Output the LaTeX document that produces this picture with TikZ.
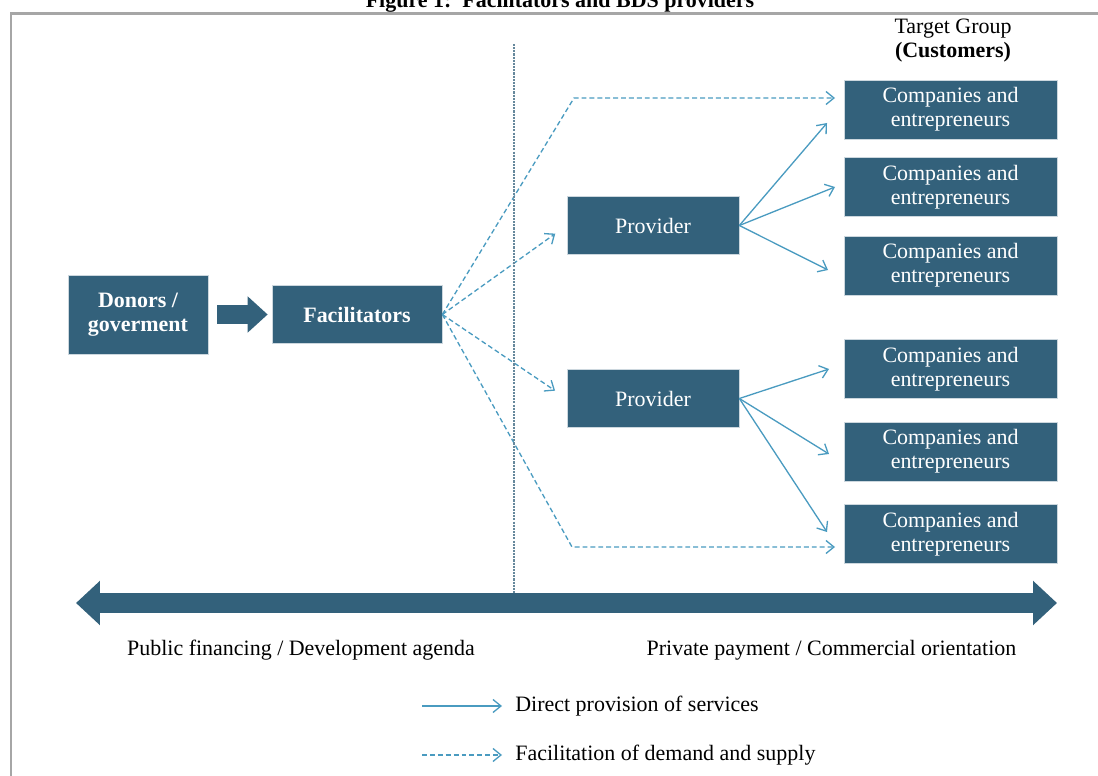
\documentclass[tikz,border=0pt]{standalone}
\usepackage{fontspec}
\setmainfont{Liberation Serif}
\usetikzlibrary{arrows.meta}
\usetikzlibrary{calc}
\definecolor{boxblue}{HTML}{33617B}
\definecolor{linkblue}{HTML}{4A9BC0}
\definecolor{framegray}{HTML}{A6A6A6}
\tikzset{txt/.style={font=\fontsize{12.5}{13.6}\selectfont}}
\tikzset{boxnode/.style={txt, fill=boxblue, text=white, draw=white!75!boxblue, line width=0.4pt, align=center, inner sep=0pt}}
\tikzset{compbox/.style={boxnode, minimum width=4.26cm, minimum height=1.18cm}}
\tikzset{provbox/.style={boxnode, minimum width=3.44cm, minimum height=1.16cm}}
\tikzset{direct/.style={draw=linkblue, line width=0.75pt, -{Straight Barb[length=1.6mm,width=2.6mm]}}}
\tikzset{facil/.style={direct, dash pattern=on 2.8pt off 1.7pt}}

\begin{document}
\begin{tikzpicture}[x=0.02cm, y=-0.02cm]

\useasboundingbox (0,0) rectangle (1098,776);
\clip (0,0) rectangle (1098,776);

\node[txt, font=\fontsize{12.5}{13.6}\selectfont\bfseries, anchor=base] (title) at (560,8) {Figure 1:\ \ Facilitators and BDS providers};
\draw[framegray, line width=0.06cm] (11,776) -- (11,14) -- (1098,14);

\node[txt, align=center] (target) at (953,41) {Target Group\\\textbf{(Customers)}};

\node[boxnode, font=\fontsize{12.5}{13.6}\selectfont\bfseries, minimum width=2.8cm, minimum height=1.58cm] (don) at (138,314.5) {Donors /\\goverment};
\node[boxnode, font=\fontsize{12.5}{13.6}\selectfont\bfseries, minimum width=3.4cm, minimum height=1.16cm] (fac) at (357,314.5) {Facilitators};

\node[provbox] (prov1) at (653,225.5) {Provider};
\node[provbox] (prov2) at (653,398.5) {Provider};

\node[compbox] (comp1) at (950.5,109.5) {Companies and\\entrepreneurs};
\node[compbox] (comp2) at (950.5,187) {Companies and\\entrepreneurs};
\node[compbox] (comp3) at (950.5,265.5) {Companies and\\entrepreneurs};
\node[compbox] (comp4) at (950.5,369) {Companies and\\entrepreneurs};
\node[compbox] (comp5) at (950.5,451.5) {Companies and\\entrepreneurs};
\node[compbox] (comp6) at (950.5,534) {Companies and\\entrepreneurs};

\draw[boxblue, line width=0.38cm, -{Triangle[length=0.4cm,width=0.7cm]}, shorten <=0.18cm, shorten >=0.08cm] (don.east) -- (fac.west);

\coordinate (bend1) at (574,98);
\coordinate (tip1) at (835,98);
\coordinate (bend6) at (572,547);
\coordinate (tip6) at (835,547);

\draw[facil] (fac.east) -- (bend1) -- (tip1);
\draw[facil, shorten >=0.28cm] (fac.east) -- (prov1.west);
\draw[facil, shorten >=0.28cm] (fac.east) -- (prov2.west);
\draw[facil] (fac.east) -- (bend6) -- (tip6);

\coordinate (in1) at (827,123);
\coordinate (in2) at (835,187);
\coordinate (in3) at (828,270);
\coordinate (in4) at (829,369);
\coordinate (in5) at (829,454);
\coordinate (in6) at (827,532);

\draw[direct] (prov1.east) -- (in1);
\draw[direct] (prov1.east) -- (in2);
\draw[direct] (prov1.east) -- (in3);
\draw[direct] (prov2.east) -- (in4);
\draw[direct] (prov2.east) -- (in5);
\draw[direct] (prov2.east) -- (in6);

\coordinate (barL) at (76,603);
\coordinate (barR) at (1057,603);
\coordinate (divtop) at (514,44);
\coordinate (divbot) at (514,593);

\draw[boxblue!75, line width=0.7pt, dash pattern=on 1.2pt off 0.6pt] (divtop) -- (divbot);
\draw[boxblue, line width=0.4cm, {Triangle[length=0.48cm,width=0.86cm]}-{Triangle[length=0.48cm,width=0.86cm]}] (barL) -- (barR);

\node[txt] (public) at (301,650) {Public financing / Development agenda};
\node[txt] (private) at (831.5,650) {Private payment / Commercial orientation};

\coordinate (leg1) at (422,706);
\coordinate (leg2) at (422,755);
\node[txt, anchor=west, inner sep=0pt] (leg1txt) at (515,706) {Direct provision of services};
\node[txt, anchor=west, inner sep=0pt] (leg2txt) at (515,755) {Facilitation of demand and supply};
\draw[direct, shorten >=0.26cm] (leg1) -- (leg1txt.west);
\draw[facil, shorten >=0.26cm] (leg2) -- (leg2txt.west);

\end{tikzpicture}
\end{document}
